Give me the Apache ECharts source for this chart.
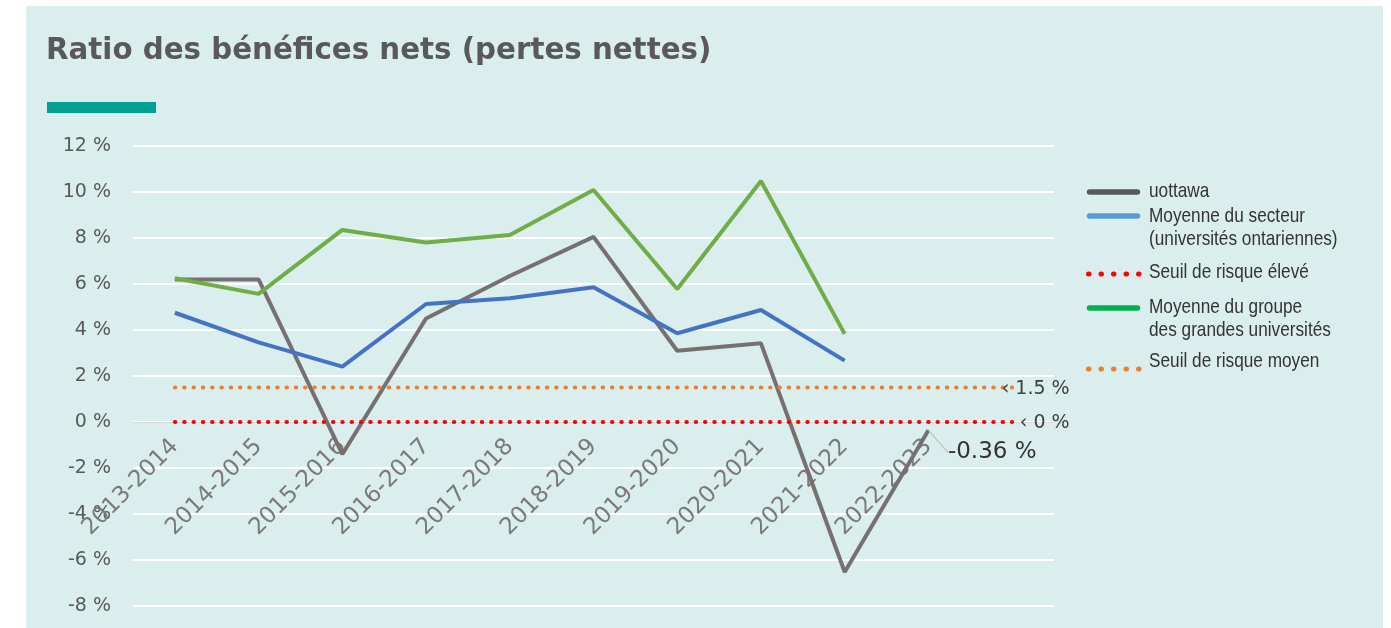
<!DOCTYPE html>
<html>
<head>
<meta charset="utf-8">
<script src="https://cdn.jsdelivr.net/npm/echarts@6/dist/echarts.min.js"></script>
<style>
  html, body { margin: 0; padding: 0; background: #ffffff; }
  #panel { position: absolute; left: 26px; top: 6px; width: 1357px; height: 622px; background: #daeeed; }
  #chart { position: absolute; left: 0; top: 0; width: 1391px; height: 628px; }
</style>
</head>
<body>
<div id="panel"></div>
<div id="chart"></div>
<script>
// Fiscal years (the last slot is an empty band that extends the plot to the right)
const years = ['2013-2014', '2014-2015', '2015-2016', '2016-2017', '2017-2018',
               '2018-2019', '2019-2020', '2020-2021', '2021-2022', '2022-2023', ''];

// Net income ratio, in percent
const uottawa = [6.2, 6.2, -1.4, 4.5, 6.35, 8.05, 3.1, 3.42, -6.52, -0.36];
const moyenneSecteur = [4.75, 3.46, 2.41, 5.13, 5.38, 5.86, 3.86, 4.87, 2.67];
const moyenneGrandes = [6.25, 5.57, 8.35, 7.8, 8.13, 10.09, 5.78, 10.48, 3.83];

// Risk thresholds
const seuilEleve = [0, 0, 0, 0, 0, 0, 0, 0, 0, 0, 0];
const seuilMoyen = [1.5, 1.5, 1.5, 1.5, 1.5, 1.5, 1.5, 1.5, 1.5, 1.5, 1.5];

// Value axis
const yMin = -8, yMax = 12, yStep = 2;

const AXIS_FONT = '"DejaVu Sans", sans-serif';
const LEGEND_FONT = '21px "Liberation Sans", Arial, sans-serif';

// Plot area
const GRID = { left: 133, right: 337, top: 146, bottom: 22 };
const PLOT_HEIGHT = 628 - GRID.top - GRID.bottom;

// Legend entries: label lines, swatch colour, dotted or solid, swatch centre y, first text line centre y
const legendEntries = [
  { lines: ['uottawa'], color: '#595959', dotted: false, iconY: 192, textY: 191 },
  { lines: ['Moyenne du secteur', '(universités ontariennes)'], color: '#5b9bd5', dotted: false, iconY: 216, textY: 216 },
  { lines: ['Seuil de risque élevé'], color: '#ff0000', dotted: true, iconY: 274, textY: 272 },
  { lines: ['Moyenne du groupe', 'des grandes universités'], color: '#00b050', dotted: false, iconY: 308, textY: 307 },
  { lines: ['Seuil de risque moyen'], color: '#ed7d31', dotted: true, iconY: 369, textY: 361 }
];

// put a value label on the last point of a series
function withEndLabel(values, labelOpts) {
  return values.map(function (v, i) {
    if (i !== values.length - 1) return v;
    return {
      value: v,
      symbol: 'circle',
      symbolSize: 1,
      label: Object.assign({ show: true }, labelOpts)
    };
  });
}

function legendGraphics() {
  const out = [];
  legendEntries.forEach(function (e) {
    out.push({
      type: 'line',
      silent: true,
      shape: e.dotted
        ? { x1: 1088.5, y1: e.iconY, x2: 1139, y2: e.iconY }
        : { x1: 1089.5, y1: e.iconY, x2: 1137.5, y2: e.iconY },
      style: e.dotted
        ? { stroke: e.color, lineWidth: 5, lineCap: 'round', lineDash: [0.5, 12] }
        : { stroke: e.color, lineWidth: 5.5, lineCap: 'round' }
    });
    out.push({
      type: 'text',
      silent: true,
      x: 1149,
      y: e.textY - 11.5,
      scaleX: 0.82,
      style: {
        x: 0, y: 0,
        text: e.lines.join('\n'),
        font: LEGEND_FONT,
        lineHeight: 23,
        fill: '#333333',
        verticalAlign: 'top',
        align: 'left'
      }
    });
  });
  return out;
}

const chart = echarts.init(document.getElementById('chart'), null, { renderer: 'canvas' });

// the category axis sits on the 0 % line
const zeroOffset = -PLOT_HEIGHT * (0 - yMin) / (yMax - yMin);

chart.setOption({
  animation: false,
  title: {
    text: 'Ratio des bénéfices nets (pertes nettes)',
    left: 46,
    top: 37,
    padding: 0,
    textStyle: { fontFamily: AXIS_FONT, fontWeight: 'bold', fontSize: 29.3, color: '#595959' }
  },
  graphic: [
    { type: 'rect', left: 47, top: 102, shape: { width: 109, height: 11 }, style: { fill: '#00a092' }, silent: true }
  ].concat(legendGraphics()),
  grid: { left: GRID.left, right: GRID.right, top: GRID.top, bottom: GRID.bottom, containLabel: false, outerBoundsMode: 'none' },
  xAxis: {
    type: 'category',
    data: years,
    boundaryGap: true,
    position: 'bottom',
    offset: zeroOffset,
    axisLine: { show: true, onZero: false, lineStyle: { color: '#d9d9d9', width: 1 } },
    axisTick: { show: false },
    splitLine: { show: false },
    axisLabel: {
      interval: 0,
      rotate: 45,
      margin: 21,
      color: '#7a7a7a',
      fontFamily: AXIS_FONT,
      fontSize: 23,
      hideOverlap: false
    },
    z: 1
  },
  yAxis: {
    type: 'value',
    min: yMin,
    max: yMax,
    interval: yStep,
    axisLine: { show: false },
    axisTick: { show: false },
    splitLine: { show: true, lineStyle: { color: '#ffffff', width: 2 } },
    axisLabel: {
      margin: 22,
      color: '#595959',
      fontFamily: AXIS_FONT,
      fontSize: 19,
      formatter: function (v) { return v + ' %'; }
    }
  },
  series: [
    {
      name: 'uottawa',
      type: 'line',
      data: withEndLabel(uottawa, {
        formatter: '-0.36 %',
        position: 'right',
        color: '#333333',
        fontFamily: AXIS_FONT,
        fontSize: 23
      }),
      symbol: 'none',
      lineStyle: { color: '#767171', width: 4 },
      itemStyle: { color: '#767171' },
      labelLayout: { dx: 14, dy: 22 },
      labelLine: { show: true, lineStyle: { color: '#bfbfbf', width: 1.2 } },
      emphasis: { disabled: true },
      z: 3
    },
    {
      name: 'Moyenne du secteur (universités ontariennes)',
      type: 'line',
      data: moyenneSecteur,
      symbol: 'none',
      lineStyle: { color: '#4472c4', width: 4 },
      itemStyle: { color: '#4472c4' },
      emphasis: { disabled: true },
      z: 4
    },
    {
      name: 'Moyenne du groupe des grandes universités',
      type: 'line',
      data: moyenneGrandes,
      symbol: 'none',
      lineStyle: { color: '#70ad47', width: 4 },
      itemStyle: { color: '#70ad47' },
      emphasis: { disabled: true },
      z: 5
    },
    {
      name: 'Seuil de risque élevé',
      type: 'line',
      data: withEndLabel(seuilEleve, {
        formatter: '‹ 0 %',
        position: [58, 2],
        align: 'right',
        verticalAlign: 'middle',
        color: '#404040',
        fontFamily: AXIS_FONT,
        fontSize: 19
      }),
      symbol: 'none',
      lineStyle: { color: '#ff0000', width: 4, type: [0.5, 8.8], cap: 'round' },
      itemStyle: { color: '#ff0000' },
      emphasis: { disabled: true },
      z: 6
    },
    {
      name: 'Seuil de risque moyen',
      type: 'line',
      data: withEndLabel(seuilMoyen, {
        formatter: '‹ 1.5 %',
        position: [58, 2],
        align: 'right',
        verticalAlign: 'middle',
        color: '#404040',
        fontFamily: AXIS_FONT,
        fontSize: 19
      }),
      symbol: 'none',
      lineStyle: { color: '#ed7d31', width: 4, type: [0.5, 8.8], cap: 'round' },
      itemStyle: { color: '#ed7d31' },
      emphasis: { disabled: true },
      z: 6
    }
  ]
});
</script>
</body>
</html>
